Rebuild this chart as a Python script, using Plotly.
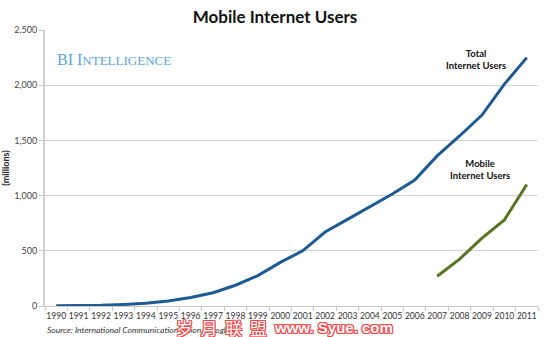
import plotly.graph_objects as go

# Years on the category axis
years = [str(y) for y in range(1990, 2012)]

# Total internet users worldwide (millions)
total_users = [3, 4, 7, 14, 25, 45, 77, 120, 188, 275, 395, 500, 670, 785,
               900, 1015, 1140, 1360, 1540, 1730, 2010, 2250]

# Mobile internet users (millions), 2007 onward
mobile_years = ["2007", "2008", "2009", "2010", "2011"]
mobile_users = [270, 425, 615, 780, 1100]

y_ticks = [0, 500, 1000, 1500, 2000, 2500]

BLUE = "#1f5a92"
GREEN = "#5a7323"
FONT = "Lato, 'Open Sans', sans-serif"

fig = go.Figure()
fig.add_trace(go.Scatter(x=years, y=total_users, mode="lines",
                         line=dict(color=BLUE, width=3), hoverinfo="skip"))
fig.add_trace(go.Scatter(x=mobile_years, y=mobile_users, mode="lines",
                         line=dict(color=GREEN, width=3), hoverinfo="skip"))

fig.update_layout(
    width=550, height=337,
    margin=dict(l=45, r=12, t=30, b=31, autoexpand=False),
    paper_bgcolor="white", plot_bgcolor="white",
    showlegend=False,
    font=dict(family=FONT, color="#333333", size=9),
    title=dict(text="<b>Mobile Internet Users</b>", x=0.5, xanchor="center",
               y=0.95, yanchor="middle",
               font=dict(family=FONT, size=17, color="#111111")),
)

fig.update_xaxes(
    type="category", categoryorder="array", categoryarray=years,
    range=[-0.5, len(years) - 0.5], automargin=False,
    showgrid=False, showline=True, linecolor="#c8c8c8", linewidth=1,
    ticks="outside", tickson="boundaries", ticklen=4, tickcolor="#c8c8c8",
    ticklabelstandoff=2,
    tickangle=0, tickfont=dict(size=8.5, color="#333333"),
)
fig.update_yaxes(
    range=[0, 2500], tickvals=y_ticks, tickformat=",", automargin=False,
    showgrid=True, gridcolor="#d4d4d4", gridwidth=1,
    showline=True, linecolor="#d0d0d0", linewidth=2,
    ticks="outside", ticklen=4, tickcolor="#c8c8c8",
    tickfont=dict(size=9, color="#444444"),
    zeroline=False,
    title=dict(text="<b>(millions)</b>", standoff=6,
               font=dict(size=9, color="#222222")),
)

fig.add_annotation(text="<b>Total<br>Internet Users</b>", xref="paper", yref="paper",
                   x=0.939, y=0.942, showarrow=False, align="center",
                   font=dict(size=9.5, color="#111111"))
fig.add_annotation(text="<b>Mobile<br>Internet Users</b>", xref="paper", yref="paper",
                   x=0.947, y=0.496, showarrow=False, align="center",
                   font=dict(size=9.5, color="#111111"))

# Brand mark in small caps
fig.add_annotation(
    text="BI I<span style='font-size:13px'>NTELLIGENCE</span>",
    xref="paper", yref="paper", x=0.02, y=0.893, xanchor="left", yanchor="middle",
    showarrow=False,
    font=dict(family="'Liberation Serif', 'DejaVu Serif', serif", size=16, color="#5aa3dc"))

fig.add_annotation(
    text="<i>Source: International Communication Union, Google</i>",
    xref="paper", yref="paper", x=0.0, y=-0.087, xanchor="left", yanchor="middle",
    showarrow=False, font=dict(size=8.5, color="#333333"))

# Site watermark, outlined red lettering
red = "#f04848"
outline = (f"1px 0 0 {red}, -1px 0 0 {red}, 0 1px 0 {red}, 0 -1px 0 {red}, "
           f"1px 1px 0 {red}, -1px -1px 0 {red}, 1px -1px 0 {red}, -1px 1px 0 {red}")
fig.add_annotation(
    text="岁  月  联  盟", xref="paper", yref="paper", x=0.357, y=-0.077,
    xanchor="center", yanchor="middle", showarrow=False, borderpad=0,
    font=dict(family="'Noto Sans CJK SC', sans-serif", size=17, color="white",
              shadow=outline))
fig.add_annotation(
    text="<b>www. Syue. com</b>", xref="paper", yref="paper", x=0.585, y=-0.077,
    xanchor="center", yanchor="middle", showarrow=False, borderpad=0,
    font=dict(family="'Liberation Sans', sans-serif", size=15, color="white",
              shadow=outline))

fig.write_html("out.html")
